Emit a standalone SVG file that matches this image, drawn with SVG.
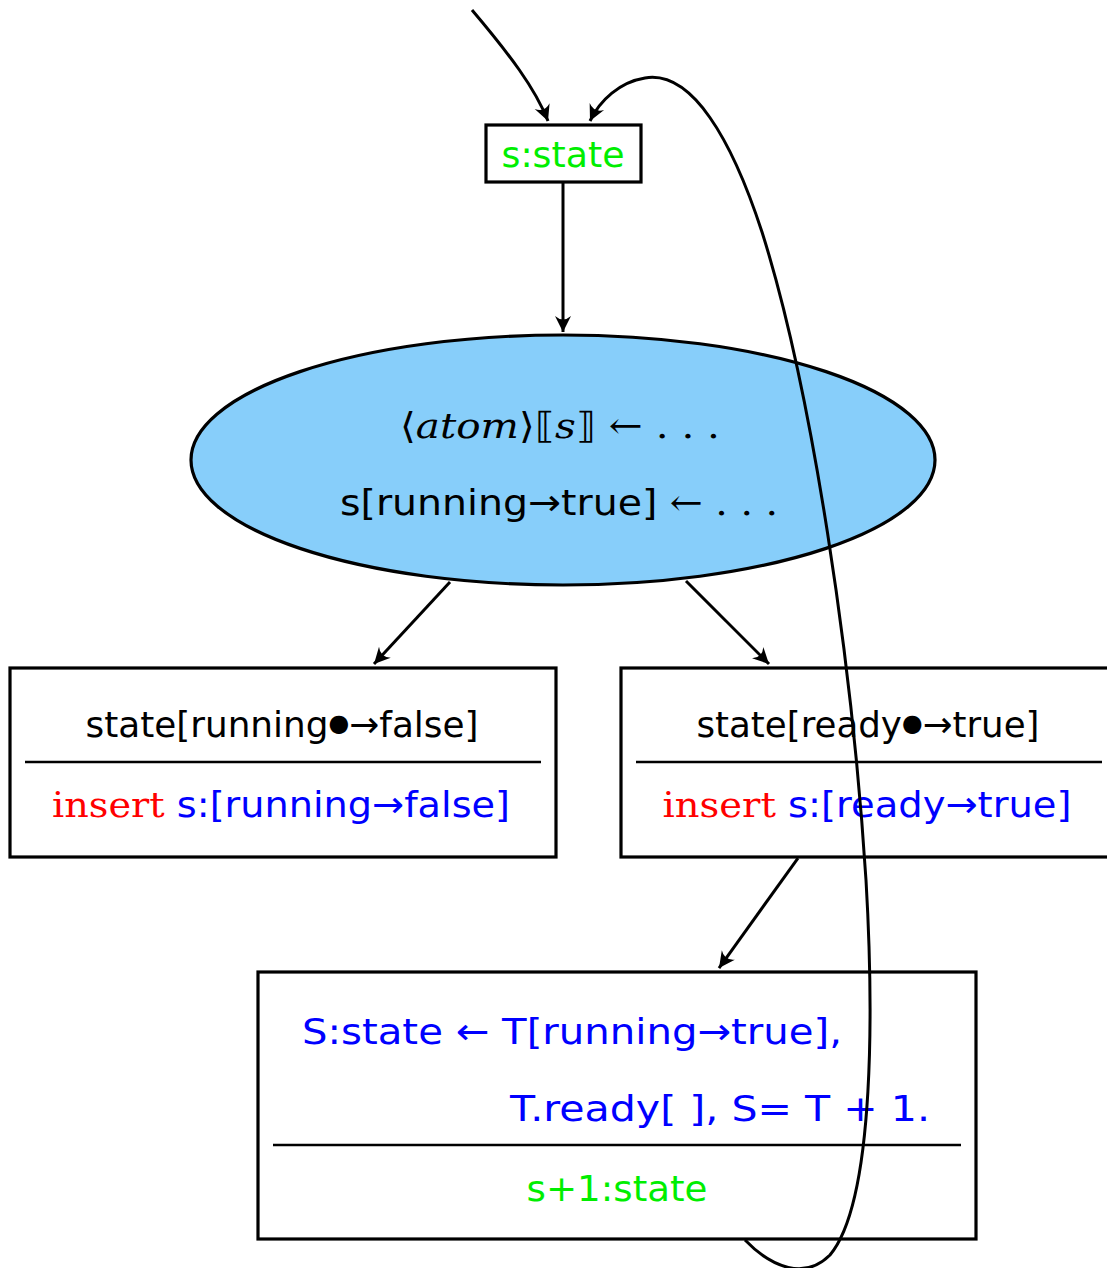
<svg xmlns="http://www.w3.org/2000/svg" width="1107" height="1268" viewBox="0 0 1107 1268">
<style>
.box{fill:#fff;stroke:#000;stroke-width:3.2}
.sep{stroke:#000;stroke-width:2.5}
.conn{fill:none;stroke:#000;stroke-width:3}
.t{font-family:"DejaVu Sans","Liberation Sans",sans-serif;font-size:36px}
.s{font-family:"DejaVu Serif","Liberation Serif",serif;font-size:36px}
.g{fill:#00ee00}
.b{fill:#0000ff}
.r{fill:#ff0000}
.k{fill:#000}
</style>
<defs>
<marker id="ah" markerUnits="userSpaceOnUse" markerWidth="22" markerHeight="22" viewBox="-18 -11 22 22" refX="0" refY="0" orient="auto">
<path d="M0,0 L-16,-8 Q-9,0 -16,8 Z" fill="#000"/>
</marker>
</defs>
<rect width="1107" height="1268" fill="#fff"/>
<g id="node-state">
<rect class="box" x="486" y="125" width="155" height="57"/>
<text class="t g" x="563" y="167" text-anchor="middle" textLength="123" lengthAdjust="spacingAndGlyphs">s:state</text>
</g>
<g id="node-ellipse">
<ellipse cx="563" cy="460" rx="372" ry="125" fill="#87cefa" stroke="#000" stroke-width="3.2"/>
<text class="s k" x="560" y="438" text-anchor="middle" textLength="320" lengthAdjust="spacingAndGlyphs">⟨<tspan font-style="italic">atom</tspan>⟩⟦<tspan font-style="italic">s</tspan>⟧ ← . . .</text>
<text class="t k" x="559" y="515" text-anchor="middle" textLength="438" lengthAdjust="spacingAndGlyphs">s[running→true] <tspan class="s">← . . .</tspan></text>
</g>
<g id="node-left">
<rect class="box" x="10" y="668" width="546" height="189"/>
<text class="t k" x="282" y="737" text-anchor="middle" textLength="393" lengthAdjust="spacingAndGlyphs">state[running<tspan font-size="24" dy="-6">●</tspan><tspan dy="6">→false]</tspan></text>
<line class="sep" x1="25" y1="762" x2="541" y2="762"/>
<text class="t" x="281" y="817" text-anchor="middle" textLength="458" lengthAdjust="spacingAndGlyphs"><tspan class="s r">insert</tspan><tspan class="b"> s:[running→false]</tspan></text>
</g>
<g id="node-right">
<rect class="box" x="621" y="668" width="500" height="189"/>
<text class="t k" x="868" y="737" text-anchor="middle" textLength="343" lengthAdjust="spacingAndGlyphs">state[ready<tspan font-size="24" dy="-6">●</tspan><tspan dy="6">→true]</tspan></text>
<line class="sep" x1="636" y1="762" x2="1102" y2="762"/>
<text class="t" x="867" y="817" text-anchor="middle" textLength="409" lengthAdjust="spacingAndGlyphs"><tspan class="s r">insert</tspan><tspan class="b"> s:[ready→true]</tspan></text>
</g>
<g id="node-bottom">
<rect class="box" x="258" y="972" width="718" height="267"/>
<text class="t b" x="302" y="1044" textLength="540" lengthAdjust="spacingAndGlyphs">S:state ← T[running→true],</text>
<text class="t b" x="510" y="1121" textLength="420" lengthAdjust="spacingAndGlyphs">T.ready[ ], S= T + 1.</text>
<line class="sep" x1="273" y1="1145" x2="961" y2="1145"/>
<text class="t g" x="617" y="1201" text-anchor="middle" textLength="181" lengthAdjust="spacingAndGlyphs">s+1:state</text>
</g>
<g id="connectors">
<path class="conn" d="M472 10 C510 55 535 88 548 121" marker-end="url(#ah)"/>
<path class="conn" d="M563 183 L563 332" marker-end="url(#ah)"/>
<path class="conn" d="M450 582 L374 664" marker-end="url(#ah)"/>
<path class="conn" d="M686 581 L769 664" marker-end="url(#ah)"/>
<path class="conn" d="M798 858 L719 968" marker-end="url(#ah)"/>
<path class="conn" d="M745 1240 C772 1268 805 1280 830 1255 C876 1200 873 1000 866 880 C852 660 812 390 762 232 C732 140 692 70 645 78 C620 82 600 100 590 121" marker-end="url(#ah)"/>
</g>
</svg>
